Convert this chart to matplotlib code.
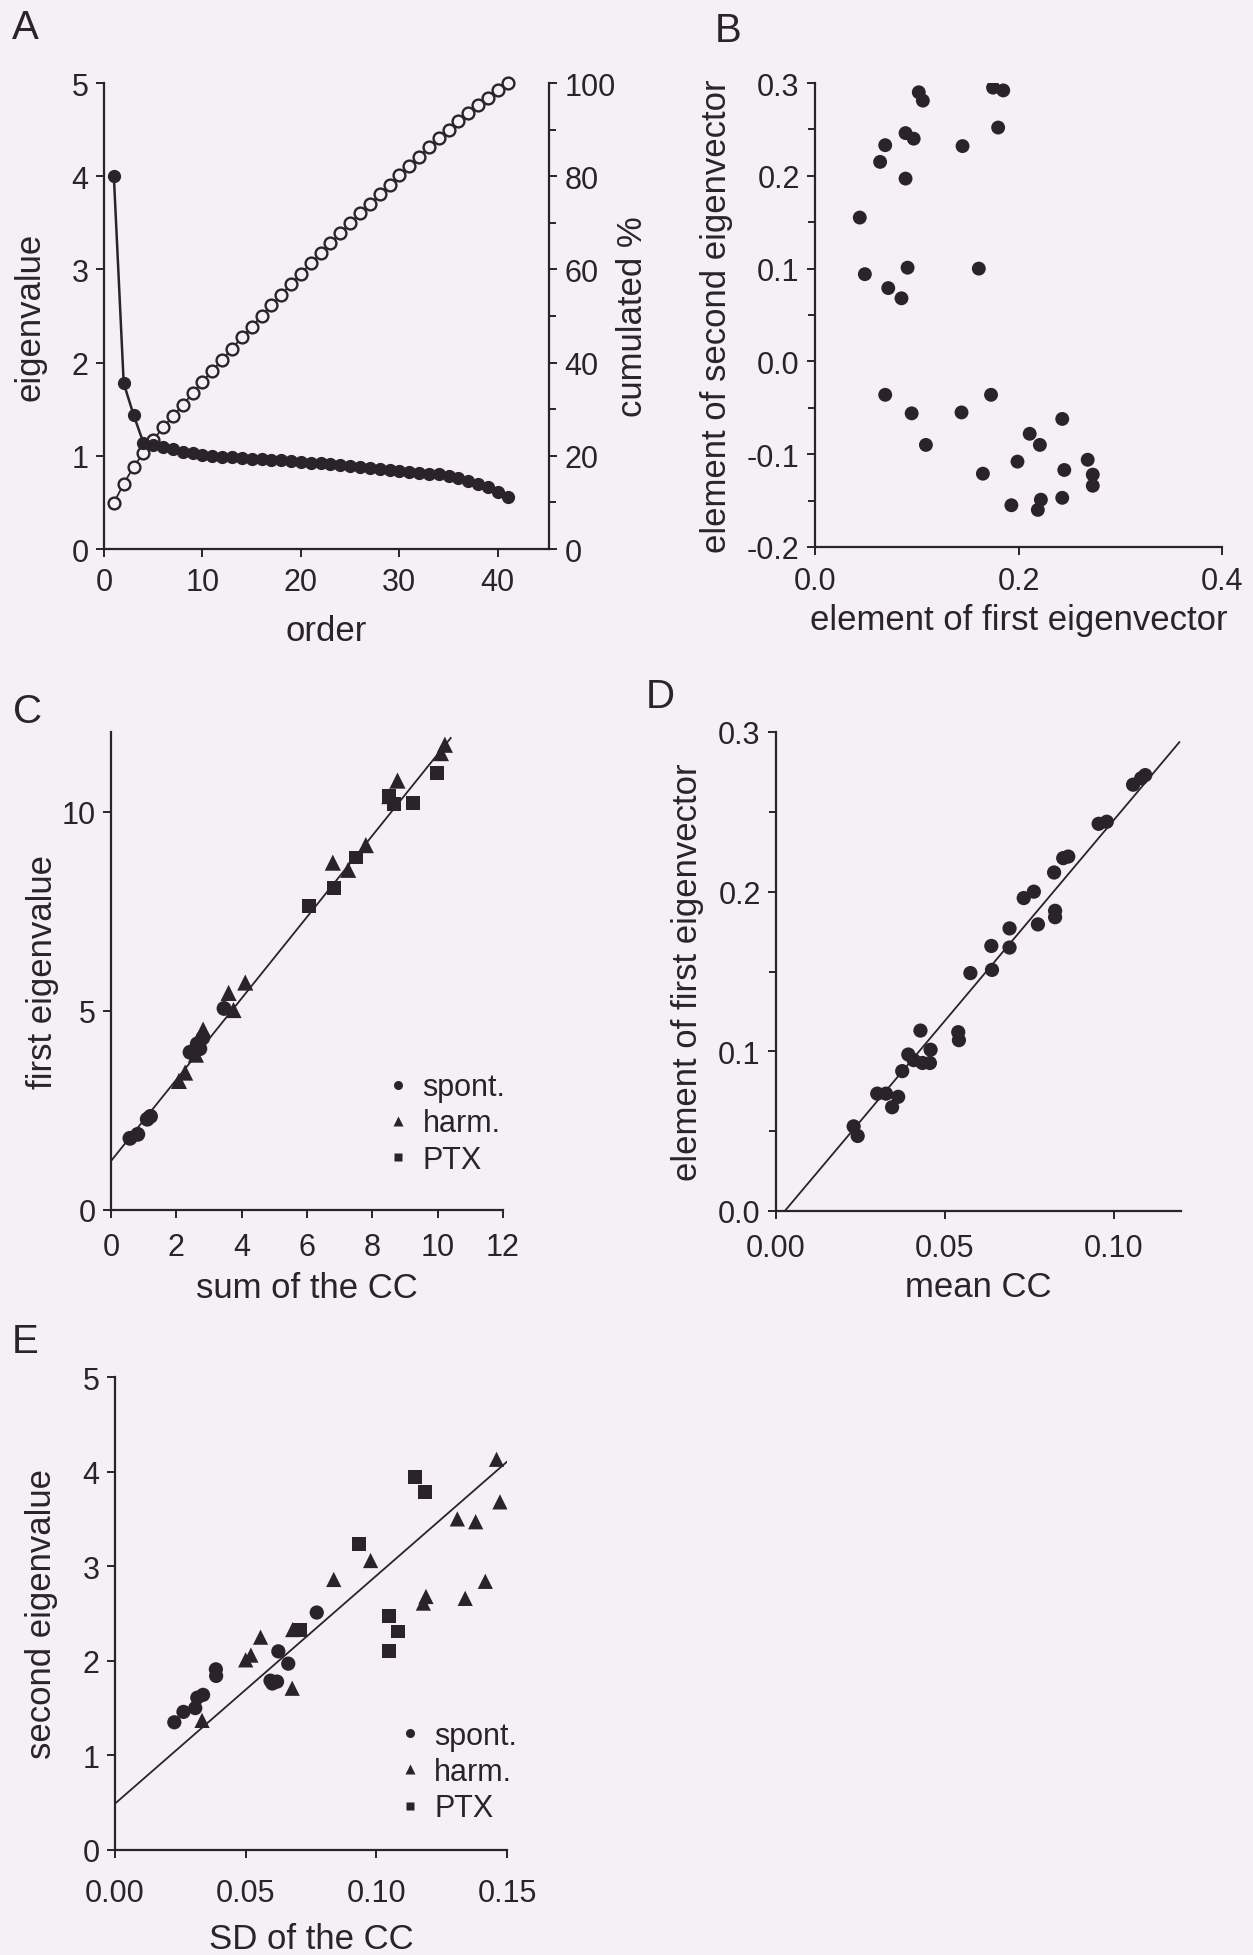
import numpy as np
import matplotlib
matplotlib.use('Agg')
import matplotlib.pyplot as plt
from matplotlib.ticker import MultipleLocator, FormatStrFormatter
from matplotlib.lines import Line2D

plt.rcParams['font.family'] = ['Liberation Sans', 'DejaVu Sans']
plt.rcParams['axes.unicode_minus'] = False

INK = '#2a2328'
BG = '#f4f0f3'
W, H = 1253, 1956

# ---- panel A: eigenvalues by order, and cumulated %
order = list(range(1, 42))
eigenvalue = [4.00, 1.78, 1.44, 1.14, 1.12, 1.09, 1.07, 1.04, 1.03, 1.01,
              1.00, 0.99, 0.99, 0.98, 0.97, 0.97, 0.96, 0.95, 0.94, 0.93,
              0.92, 0.92, 0.91, 0.90, 0.89, 0.88, 0.87, 0.86, 0.85, 0.84,
              0.83, 0.82, 0.81, 0.80, 0.78, 0.76, 0.73, 0.70, 0.66, 0.61, 0.56]
cumulated = [9.9, 14.0, 17.6, 20.6, 23.4, 26.1, 28.5, 30.9, 33.4, 35.9,
             38.3, 40.6, 43.0, 45.4, 47.7, 50.0, 52.3, 54.6, 56.9, 59.1,
             61.3, 63.5, 65.6, 67.8, 69.9, 72.0, 74.0, 76.1, 78.1, 80.2,
             82.2, 84.2, 86.2, 88.1, 90.0, 91.8, 93.6, 95.2, 96.8, 98.4, 100.0]

# ---- panel B: second vs first eigenvector elements
b_first = [0.044, 0.049, 0.064, 0.069, 0.072, 0.085, 0.089, 0.089, 0.097, 0.091,
           0.102, 0.106, 0.145, 0.161, 0.175, 0.185, 0.180,
           0.069, 0.095, 0.109, 0.144, 0.173, 0.165, 0.199, 0.193, 0.211,
           0.221, 0.222, 0.219, 0.243, 0.245, 0.243, 0.268, 0.273, 0.273]
b_second = [0.155, 0.094, 0.215, 0.233, 0.079, 0.068, 0.197, 0.246, 0.240, 0.101,
            0.290, 0.281, 0.232, 0.100, 0.295, 0.292, 0.252,
            -0.036, -0.056, -0.090, -0.055, -0.036, -0.121, -0.108, -0.155, -0.078,
            -0.090, -0.149, -0.160, -0.062, -0.117, -0.147, -0.106, -0.122, -0.134]

# ---- panel C: first eigenvalue vs sum of the CC
c_spont_x = [0.58, 0.82, 1.11, 1.21, 2.42, 2.64, 2.81, 3.46, 2.72]
c_spont_y = [1.80, 1.90, 2.28, 2.35, 3.96, 4.17, 4.32, 5.06, 4.05]
c_harm_x = [2.08, 2.27, 2.60, 2.82, 3.60, 3.75, 4.11, 6.79, 7.26, 7.80,
            8.52, 8.77, 10.10, 10.22]
c_harm_y = [3.24, 3.45, 3.90, 4.53, 5.45, 5.02, 5.71, 8.72, 8.54, 9.16,
            10.39, 10.78, 11.47, 11.68]
c_ptx_x = [6.07, 6.83, 7.50, 8.52, 8.65, 9.25, 9.98]
c_ptx_y = [7.63, 8.08, 8.85, 10.39, 10.19, 10.22, 10.96]
c_fit_x = [0.0, 10.4]
c_fit_y = [1.23, 11.85]

# ---- panel D: element of first eigenvector vs mean CC
d_mean = [0.0230, 0.0242, 0.0300, 0.0326, 0.0344, 0.0362, 0.0374, 0.0392, 0.0408,
          0.0428, 0.0434, 0.0456, 0.0458, 0.0540, 0.0542, 0.0576, 0.0638, 0.0640,
          0.0692, 0.0692, 0.0734, 0.0764, 0.0776, 0.0824, 0.0827, 0.0827, 0.0851,
          0.0866, 0.0956, 0.0980, 0.1058, 0.1082, 0.1094]
d_elem = [0.053, 0.047, 0.0735, 0.0735, 0.065, 0.0715, 0.0876, 0.098, 0.0945,
          0.113, 0.0927, 0.0927, 0.101, 0.112, 0.107, 0.149, 0.166, 0.151,
          0.177, 0.165, 0.196, 0.200, 0.1795, 0.212, 0.188, 0.184, 0.221,
          0.222, 0.2425, 0.2438, 0.267, 0.271, 0.273]
d_fit_x = [0.0026, 0.1195]
d_fit_y = [0.0, 0.2936]

# ---- panel E: second eigenvalue vs SD of the CC
e_spont_x = [0.0227, 0.0262, 0.0307, 0.0315, 0.0337, 0.0386, 0.0387, 0.0595,
             0.0602, 0.0620, 0.0625, 0.0663, 0.0772]
e_spont_y = [1.35, 1.46, 1.50, 1.61, 1.64, 1.91, 1.84, 1.79, 1.76, 1.78, 2.10,
             1.97, 2.51]
e_harm_x = [0.0333, 0.0500, 0.0520, 0.0557, 0.0678, 0.0680, 0.0837, 0.0978,
            0.1180, 0.1190, 0.1310, 0.1380, 0.1340, 0.1417, 0.1460, 0.1473]
e_harm_y = [1.37, 2.01, 2.06, 2.25, 1.71, 2.33, 2.86, 3.06, 2.61, 2.68, 3.50,
            3.47, 2.66, 2.84, 4.13, 3.68]
e_ptx_x = [0.0708, 0.0935, 0.1147, 0.1185, 0.1049, 0.1049, 0.1084]
e_ptx_y = [2.33, 3.23, 3.94, 3.78, 2.47, 2.10, 2.31]
e_fit_x = [0.0, 0.1548]
e_fit_y = [0.49, 4.22]

legend_labels = ['spont.', 'harm.', 'PTX']

TICK_FS = 22
LABEL_FS = 25


def place(fig, l, r, t, b):
    return fig.add_axes([l / W, 1 - b / H, (r - l) / W, (b - t) / H])


def style(ax, xpad=5):
    ax.set_facecolor('none')
    for s in ['top', 'right']:
        ax.spines[s].set_visible(False)
    for s in ['left', 'bottom']:
        ax.spines[s].set_color(INK)
        ax.spines[s].set_linewidth(1.6)
    ax.tick_params(direction='out', length=6, width=1.4, colors=INK,
                   labelsize=TICK_FS, pad=5)
    ax.tick_params(axis='x', pad=xpad)
    ax.tick_params(which='minor', direction='out', length=5, width=1.4, colors=INK)


def panel_letter(fig, x, y, s):
    fig.text(x / W, 1 - y / H, s, fontsize=29, color=INK, ha='center', va='center')


fig = plt.figure(figsize=(W / 100, H / 100), dpi=100)
fig.patch.set_facecolor(BG)

# A
axA = place(fig, 104, 549, 84, 550)
style(axA, xpad=7)
axA.plot(order, eigenvalue, color=INK, lw=1.8, marker='o', ms=8.5, mfc=INK, mec=INK,
         zorder=3, clip_on=False)
axA.set_xlim(0, 45.2)
axA.set_ylim(0, 5)
axA.xaxis.set_major_locator(MultipleLocator(10))
axA.yaxis.set_major_locator(MultipleLocator(1))
axA.set_xlabel('order', fontsize=LABEL_FS, color=INK, labelpad=12)
axA.set_ylabel('eigenvalue', fontsize=LABEL_FS, color=INK, labelpad=18)
axA2 = axA.twinx()
style(axA2)
axA2.spines['right'].set_visible(True)
axA2.spines['right'].set_color(INK)
axA2.spines['right'].set_linewidth(1.6)
axA2.spines['left'].set_visible(False)
axA2.spines['bottom'].set_visible(False)
axA2.plot(order, cumulated, color=INK, lw=1.3, marker='o', ms=8.5, mfc=BG, mec=INK,
          mew=1.7, zorder=2, clip_on=False)
axA2.set_ylim(0, 100)
axA2.yaxis.set_major_locator(MultipleLocator(20))
axA2.yaxis.set_minor_locator(MultipleLocator(10))
axA2.set_ylabel('cumulated %', fontsize=LABEL_FS, color=INK, labelpad=0)
axA.set_zorder(axA2.get_zorder() + 1)
axA.patch.set_visible(False)

# B
axB = place(fig, 815, 1222, 84, 548)
style(axB, xpad=8)
axB.scatter(b_first, b_second, s=100, color=INK, edgecolors='none')
axB.set_xlim(0, 0.4)
axB.set_ylim(-0.2, 0.3)
axB.xaxis.set_major_locator(MultipleLocator(0.2))
axB.yaxis.set_major_locator(MultipleLocator(0.1))
axB.yaxis.set_minor_locator(MultipleLocator(0.05))
axB.xaxis.set_major_formatter(FormatStrFormatter('%.1f'))
axB.yaxis.set_major_formatter(FormatStrFormatter('%.1f'))
axB.set_xlabel('element of first eigenvector', fontsize=LABEL_FS, color=INK, labelpad=5)
axB.set_ylabel('element of second eigenvector', fontsize=LABEL_FS, color=INK, labelpad=10)

# C
axC = place(fig, 111, 503, 733, 1211)
style(axC, xpad=10)
axC.plot(c_fit_x, c_fit_y, color=INK, lw=1.3, zorder=1)
axC.scatter(c_spont_x, c_spont_y, s=115, marker='o', color=INK, edgecolors='none', zorder=3)
axC.scatter(c_harm_x, c_harm_y, s=135, marker='^', color=INK, edgecolors='none', zorder=3)
axC.scatter(c_ptx_x, c_ptx_y, s=100, marker='s', color=INK, edgecolors='none', zorder=3)
axC.set_xlim(0, 12)
axC.set_ylim(0, 12)
axC.xaxis.set_major_locator(MultipleLocator(2))
axC.yaxis.set_major_locator(MultipleLocator(5))
axC.set_xlabel('sum of the CC', fontsize=LABEL_FS, color=INK, labelpad=6)
axC.set_ylabel('first eigenvalue', fontsize=LABEL_FS, color=INK, labelpad=2)

# D
axD = place(fig, 776, 1181, 733, 1212)
style(axD, xpad=10)
axD.plot(d_fit_x, d_fit_y, color=INK, lw=1.3, zorder=1)
axD.scatter(d_mean, d_elem, s=105, color=INK, edgecolors='none', zorder=3)
axD.set_xlim(0, 0.12)
axD.set_ylim(0, 0.3)
axD.xaxis.set_major_locator(MultipleLocator(0.05))
axD.yaxis.set_major_locator(MultipleLocator(0.1))
axD.yaxis.set_minor_locator(MultipleLocator(0.05))
axD.xaxis.set_major_formatter(FormatStrFormatter('%.2f'))
axD.yaxis.set_major_formatter(FormatStrFormatter('%.1f'))
axD.set_xlabel('mean CC', fontsize=LABEL_FS, color=INK, labelpad=5)
axD.set_ylabel('element of first eigenvector', fontsize=LABEL_FS, color=INK, labelpad=10)

# E
axE = place(fig, 115, 507, 1378, 1851)
style(axE, xpad=14)
axE.plot(e_fit_x, e_fit_y, color=INK, lw=1.3, zorder=1)
axE.scatter(e_spont_x, e_spont_y, s=105, marker='o', color=INK, edgecolors='none', zorder=3)
axE.scatter(e_harm_x, e_harm_y, s=120, marker='^', color=INK, edgecolors='none', zorder=3)
axE.scatter(e_ptx_x, e_ptx_y, s=100, marker='s', color=INK, edgecolors='none', zorder=3)
axE.set_xlim(0, 0.15)
axE.set_ylim(0, 5)
axE.xaxis.set_major_locator(MultipleLocator(0.05))
axE.yaxis.set_major_locator(MultipleLocator(1))
axE.xaxis.set_major_formatter(FormatStrFormatter('%.2f'))
axE.set_xlabel('SD of the CC', fontsize=LABEL_FS, color=INK, labelpad=10)
axE.set_ylabel('second eigenvalue', fontsize=LABEL_FS, color=INK, labelpad=18)

# legends for C and E
handles = [Line2D([], [], ls='none', marker=m, ms=ms, color=INK, mec='none')
           for m, ms in [('o', 6.5), ('^', 7.5), ('s', 6)]]
for ax, anchor in [(axC, (0.67, 0.32)), (axE, (0.69, 0.305))]:
    ax.legend(handles, legend_labels, loc='upper left', bbox_to_anchor=anchor,
              frameon=False, fontsize=TICK_FS, handlelength=0.6, handletextpad=0.5,
              labelspacing=0.2, borderpad=0, labelcolor=INK)

panel_letter(fig, 25, 28, 'A')
panel_letter(fig, 728, 31, 'B')
panel_letter(fig, 28, 712, 'C')
panel_letter(fig, 660, 697, 'D')
panel_letter(fig, 25, 1342, 'E')

fig.savefig('out.png', dpi=100, facecolor=BG)
